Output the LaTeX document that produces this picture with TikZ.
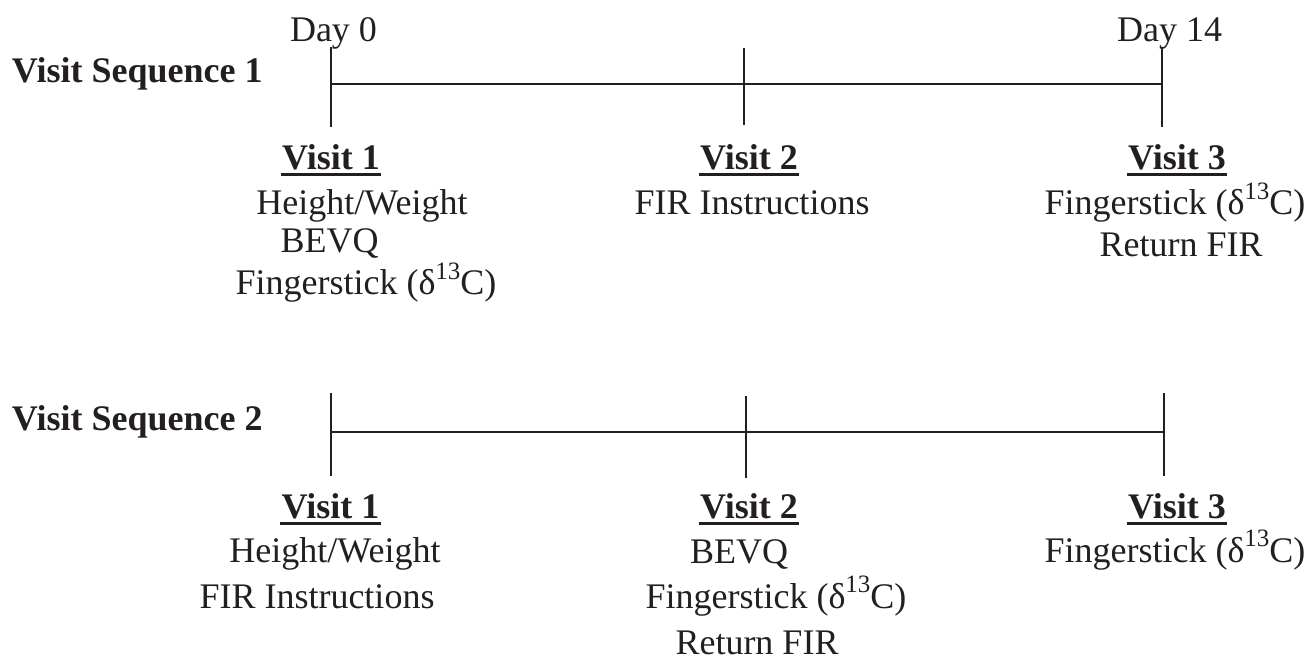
\documentclass[tikz,border=0pt]{standalone}
\usepackage{fontspec}
\setmainfont{Liberation Serif}
\definecolor{ink}{HTML}{231F20}
\newcommand\vul[1]{\setbox0\hbox{#1}\rlap{\kern-1.5pt\rule[-6.5pt]{\dimexpr\wd0+3pt\relax}{3pt}}\box0}
\newcommand\dC{(δ\raisebox{0.42em}{\fontsize{25}{25}\selectfont 13}C)}
\begin{document}
\begin{tikzpicture}[x=1pt,y=-1pt,
  every node/.style={inner sep=0pt,outer sep=0pt,text=ink,font=\fontsize{36}{40}\selectfont},
  txt/.style={anchor=base},
  head/.style={anchor=base,font=\fontsize{36}{40}\selectfont\bfseries},
  seqlabel/.style={anchor=base west,font=\fontsize{36}{40}\selectfont\bfseries},
  tl/.style={draw=ink,line width=2.4pt}]
\useasboundingbox (0,0) rectangle (1312,660);
% ---------- Sequence 1 ----------
\node[seqlabel] (s1) at (12,83) {Visit Sequence 1};
\node[txt] (d0) at (333.5,42) {Day 0};
\node[txt] (d14) at (1169.5,42) {Day 14};
\coordinate (a1t) at (331,47);  \coordinate (a1m) at (331,84);  \coordinate (a1b) at (331,127);
\coordinate (a2t) at (744,48);  \coordinate (a2m) at (744,84);  \coordinate (a2b) at (744,125);
\coordinate (a3t) at (1162,48); \coordinate (a3m) at (1162,84); \coordinate (a3b) at (1162,127);
\draw[tl] (a1t) -- (a1b);
\draw[tl] (a2t) -- (a2b);
\draw[tl] (a3t) -- (a3b);
\draw[tl] (a1m) -- (a3m);
\node[head] (v11) at (331,170) {\vul{Visit 1}};
\node[txt] (v11a) at (362,215) {Height/Weight};
\node[txt] (v11b) at (329.5,253) {BEVQ};
\node[txt] (v11c) at (366,295) {Fingerstick \dC};
\node[head] (v12) at (749,170) {\vul{Visit 2}};
\node[txt] (v12a) at (752,215) {FIR Instructions};
\node[head] (v13) at (1177,170) {\vul{Visit 3}};
\node[txt] (v13a) at (1175,215) {Fingerstick \dC};
\node[txt] (v13b) at (1181,257) {Return FIR};
% ---------- Sequence 2 ----------
\node[seqlabel] (s2) at (12,430) {Visit Sequence 2};
\coordinate (b1t) at (331,393);  \coordinate (b1m) at (331,432);  \coordinate (b1b) at (331,476);
\coordinate (b2t) at (746,396);  \coordinate (b2m) at (746,432);  \coordinate (b2b) at (746,478);
\coordinate (b3t) at (1164,393); \coordinate (b3m) at (1164,432); \coordinate (b3b) at (1164,476);
\draw[tl] (b1t) -- (b1b);
\draw[tl] (b2t) -- (b2b);
\draw[tl] (b3t) -- (b3b);
\draw[tl] (b1m) -- (b3m);
\node[head] (v21) at (330.5,518) {\vul{Visit 1}};
\node[txt] (v21a) at (335,562) {Height/Weight};
\node[txt] (v21b) at (317,608) {FIR Instructions};
\node[head] (v22) at (749,518) {\vul{Visit 2}};
\node[txt] (v22a) at (739,563) {BEVQ};
\node[txt] (v22b) at (776,608) {Fingerstick \dC};
\node[txt,text depth=0pt] (v22c) at (757,654) {Return FIR};
\node[head] (v23) at (1177,518) {\vul{Visit 3}};
\node[txt] (v23a) at (1175,562) {Fingerstick \dC};
\end{tikzpicture}
\end{document}
